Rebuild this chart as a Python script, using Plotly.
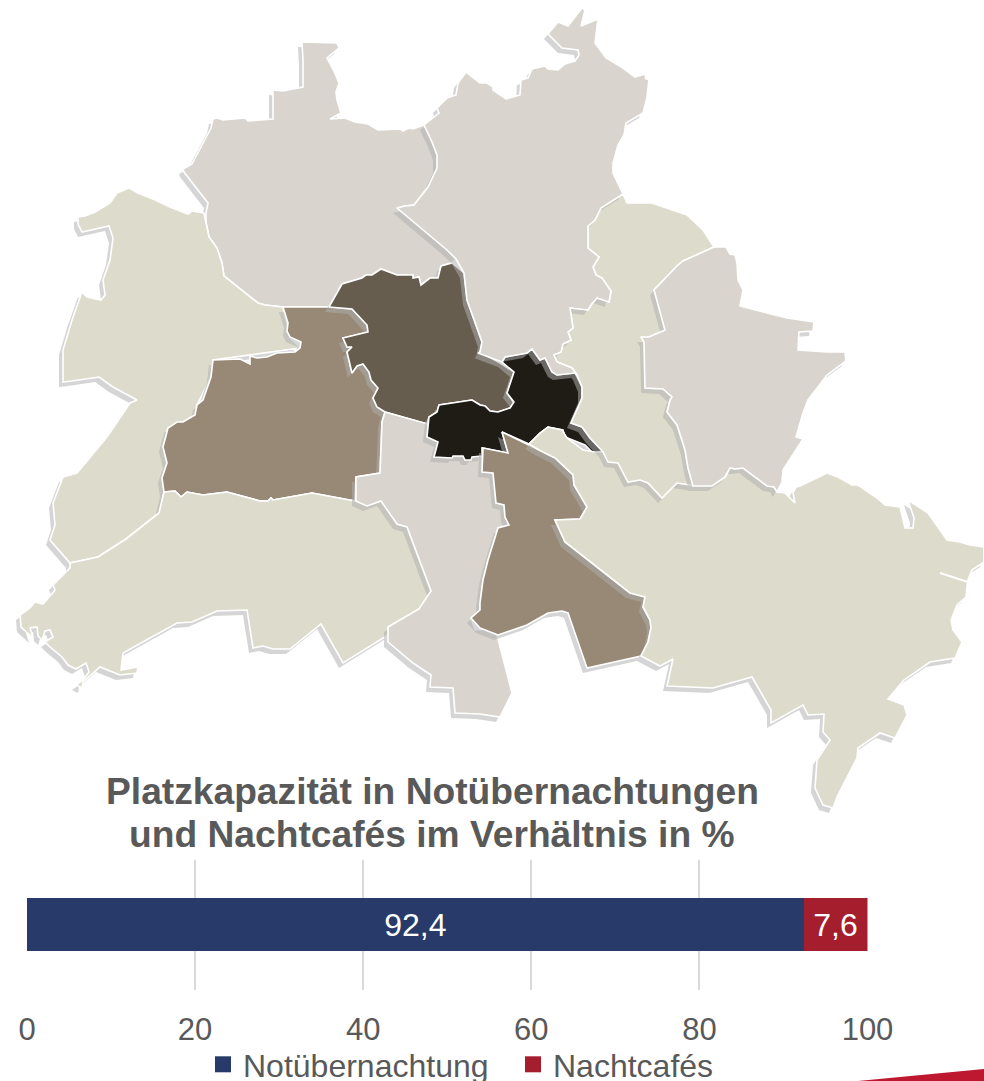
import plotly.graph_objects as go

# District outlines, as (x, y) on the map's own coordinate grid
REINICKENDORF = [(302,42),(337,43),(339,48),(327,58),(334,71),(339,83),(336,92),(337,100),(341,113),(330,119),(345,118),(355,122),(368,124),(378,130),(400,129),(403,131),(409,128),(413,129),(424,125),(432,142),(437,155),(437,168),(428,187),(414,205),(405,206),(397,208),(447,250),(456,259),(452,263),(441,266),(438,278),(430,278),(421,285),(419,277),(413,278),(413,275),(397,275),(381,269),(372,275),(366,275),(362,278),(342,284),(329,307),(283,307),(265,305),(258,303),(224,276),(222,263),(217,248),(209,237),(206,222),(206,213),(208,203),(184,172),(183,169),(192,164),(211,128),(213,119),(217,118),(223,120),(245,118),(248,121),(273,119),(273,90),(283,91),(303,87),(303,60)]
PANKOW = [(424,125),(439,113),(437,108),(447,98),(456,95),(458,83),(466,72),(480,83),(487,83),(493,87),(493,90),(506,99),(520,95),(521,80),(528,78),(532,69),(545,66),(548,69),(558,70),(565,64),(575,61),(579,55),(578,50),(562,48),(548,34),(558,22),(568,26),(582,8),(585,10),(581,26),(598,19),(595,43),(606,58),(623,68),(635,77),(645,74),(646,79),(649,79),(647,97),(643,113),(626,123),(624,135),(618,145),(613,163),(613,173),(623,194),(601,208),(595,220),(588,226),(588,248),(599,257),(593,267),(596,275),(602,278),(611,291),(609,302),(597,298),(591,305),(588,310),(570,308),(573,328),(568,332),(571,340),(563,344),(561,352),(554,355),(557,362),(572,368),(577,375),(575,373),(557,375),(552,372),(545,358),(540,360),(532,349),(527,353),(505,357),(502,362),(478,353),(480,352),(482,342),(467,300),(464,273),(456,259),(447,250),(397,208),(405,206),(414,205),(428,187),(437,168),(437,155),(432,142)]
SPANDAU = [(204,213),(192,211),(188,214),(170,207),(153,199),(138,193),(129,188),(117,193),(110,203),(95,212),(85,216),(78,217),(78,224),(82,232),(109,226),(113,238),(110,260),(103,280),(105,295),(101,300),(87,297),(82,292),(72,320),(63,350),(63,382),(72,381),(99,377),(113,387),(137,400),(130,403),(107,437),(77,473),(63,477),(53,503),(55,525),(50,540),(70,563),(98,557),(126,539),(159,513),(164,492),(162,478),(167,463),(163,447),(168,428),(183,422),(195,415),(197,405),(211,377),(213,360),(300,348),(290,337),(283,307),(265,305),(258,303),(224,276),(222,263),(217,248),(209,237),(206,222)]
CHARLOTTENBURG = [(283,307),(329,307),(352,309),(367,325),(368,332),(343,338),(347,347),(352,347),(347,352),(352,373),(357,366),(363,364),(369,372),(371,380),(378,388),(373,398),(377,407),(385,412),(382,422),(380,473),(356,477),(355,501),(312,493),(273,500),(271,498),(268,501),(260,501),(227,492),(203,495),(187,492),(181,497),(175,491),(164,492),(162,478),(167,463),(163,447),(168,428),(177,422),(183,422),(195,415),(197,405),(203,400),(211,377),(213,360),(240,359),(250,364),(250,356),(257,358),(267,357),(277,353),(295,352),(300,348),(301,342),(290,337),(287,331),(288,323)]
ZEHLENDORF = [(164,492),(175,491),(181,497),(187,492),(203,495),(227,492),(260,501),(268,501),(271,498),(273,500),(312,493),(355,501),(367,506),(381,501),(397,524),(407,527),(418,557),(431,591),(419,609),(388,627),(388,635),(343,663),(321,624),(290,649),(273,649),(263,646),(253,648),(247,610),(217,611),(192,622),(177,623),(123,653),(121,670),(138,667),(137,673),(120,675),(100,667),(83,682),(82,688),(76,685),(83,680),(89,672),(86,663),(76,669),(68,665),(62,657),(50,647),(45,642),(53,637),(50,630),(45,631),(42,640),(38,636),(37,627),(30,628),(33,638),(21,627),(20,615),(30,608),(35,602),(43,604),(55,590),(53,585),(70,568),(70,563),(98,557),(126,539),(159,513)]
MITTE = [(329,307),(342,284),(362,278),(366,275),(372,275),(381,269),(397,275),(413,275),(413,278),(419,277),(421,285),(430,278),(438,278),(441,266),(452,263),(464,273),(467,300),(482,342),(480,352),(500,363),(514,372),(507,393),(514,403),(510,408),(498,412),(490,411),(485,406),(480,405),(472,400),(439,405),(437,412),(429,417),(427,424),(385,412),(377,407),(373,398),(378,388),(371,380),(369,372),(363,364),(357,366),(352,373),(347,352),(352,347),(347,347),(343,338),(368,332),(367,325),(352,309)]
TEMPELHOF = [(385,412),(428,424),(427,437),(438,442),(434,457),(482,456),(482,472),(493,473),(496,503),(504,505),(505,517),(509,525),(498,528),(488,560),(483,580),(480,603),(480,610),(471,618),(475,630),(488,629),(497,635),(512,693),(500,717),(480,714),(455,713),(453,688),(430,687),(431,675),(413,663),(388,642),(388,627),(419,609),(431,591),(418,557),(407,527),(397,524),(381,501),(367,506),(356,501),(356,477),(380,473),(382,422)]
KREUZBERG = [(439,405),(472,400),(480,405),(485,406),(490,411),(498,412),(510,408),(514,402),(507,393),(514,372),(502,362),(505,357),(527,353),(532,349),(540,360),(545,358),(552,372),(557,375),(575,373),(582,387),(582,398),(571,423),(582,427),(590,438),(603,451),(593,453),(585,445),(565,437),(563,430),(548,427),(540,433),(529,444),(502,432),(508,453),(482,448),(482,456),(472,457),(471,460),(465,460),(463,456),(453,456),(452,458),(434,457),(438,442),(427,437),(429,417),(437,412)]
NEUKOELLN = [(502,432),(530,445),(539,450),(555,458),(573,475),(574,485),(587,507),(580,519),(555,520),(565,542),(630,593),(645,597),(643,607),(650,620),(651,628),(648,642),(641,656),(587,668),(568,613),(562,611),(548,613),(527,625),(498,635),(480,628),(471,618),(480,610),(480,603),(483,580),(488,560),(498,528),(509,525),(505,517),(504,505),(496,503),(493,473),(482,472),(483,448),(508,453)]
TREPTOW = [(529,444),(540,433),(548,427),(562,430),(567,438),(583,450),(595,452),(603,452),(608,462),(618,463),(628,482),(640,480),(648,483),(662,498),(677,483),(690,485),(712,486),(725,477),(730,468),(735,469),(743,468),(767,486),(774,487),(777,492),(785,493),(795,503),(793,493),(796,487),(800,486),(808,482),(827,473),(838,477),(852,485),(858,485),(877,498),(885,505),(900,507),(905,528),(913,528),(914,518),(908,500),(928,513),(947,540),(960,542),(970,545),(984,547),(984,562),(972,570),(968,580),(967,587),(966,597),(957,605),(951,620),(953,630),(962,642),(955,658),(930,662),(904,680),(888,699),(904,705),(907,715),(895,738),(880,733),(858,748),(857,758),(837,797),(833,808),(823,805),(815,788),(817,760),(830,740),(823,732),(824,714),(808,715),(803,705),(771,723),(771,710),(752,677),(713,688),(667,686),(673,659),(660,666),(641,656),(648,642),(651,628),(650,620),(643,607),(645,597),(630,593),(565,542),(555,520),(580,519),(587,507),(574,485),(573,475),(555,458),(539,450)]
LICHTENBERG = [(623,194),(627,203),(652,203),(687,215),(703,230),(714,247),(683,261),(677,266),(654,290),(665,330),(649,337),(641,337),(644,342),(645,388),(663,389),(672,397),(670,400),(667,412),(677,425),(685,450),(688,468),(693,486),(690,485),(677,483),(662,498),(648,483),(640,480),(628,482),(618,463),(608,462),(603,452),(590,438),(582,427),(571,423),(582,398),(582,387),(577,375),(572,368),(557,362),(554,355),(561,352),(563,344),(571,340),(568,332),(573,328),(570,308),(588,310),(591,305),(597,298),(609,302),(611,291),(602,278),(596,275),(593,267),(599,257),(588,248),(588,226),(595,220),(601,208)]
MARZAHN = [(714,247),(726,247),(730,254),(735,255),(737,263),(738,280),(743,290),(740,306),(787,318),(814,322),(813,331),(799,332),(798,350),(827,352),(845,352),(846,361),(827,375),(808,400),(803,413),(796,437),(803,439),(783,470),(782,482),(777,492),(774,487),(767,486),(743,468),(735,469),(730,468),(725,477),(712,486),(693,486),(688,468),(685,450),(677,425),(667,412),(670,400),(672,397),(663,389),(645,388),(644,342),(641,337),(649,337),(665,330),(654,290),(677,266),(683,261)]
RIVER_LINE = [(940,573),(968,582)]

GRAY, OLIVE, TAUPE, UMBER, BLACK = "#D9D5CE", "#DDDCCC", "#978976", "#675D4F", "#1E1C15"
DISTRICTS = [
    ("Reinickendorf", REINICKENDORF, GRAY),
    ("Spandau", SPANDAU, OLIVE),
    ("Charlottenburg-Wilmersdorf", CHARLOTTENBURG, TAUPE),
    ("Steglitz-Zehlendorf", ZEHLENDORF, OLIVE),
    ("Mitte", MITTE, UMBER),
    ("Tempelhof-Schöneberg", TEMPELHOF, GRAY),
    ("Friedrichshain-Kreuzberg", KREUZBERG, BLACK),
    ("Neukölln", NEUKOELLN, TAUPE),
    ("Treptow-Köpenick", TREPTOW, OLIVE),
    ("Lichtenberg", LICHTENBERG, OLIVE),
    ("Pankow", PANKOW, GRAY),
    ("Marzahn-Hellersdorf", MARZAHN, GRAY),
]
SHADOW_DX, SHADOW_DY = -4, 5

BAR_CATEGORY = ["Platzkapazität"]
SERIES = ["Notübernachtung", "Nachtcafés"]
VALUES = [92.4, 7.6]
COLORS = ["#283A6A", "#A51E2E"]
TICKS = [0, 20, 40, 60, 80, 100]
TITLE_LINES = ["Platzkapazität in Notübernachtungen", "und Nachtcafés im Verhältnis in %"]

W, H = 984, 1081
TEXT = "#595959"
FONT = "Liberation Sans"

fig = go.Figure()

def closed(poly, dx=0, dy=0):
    pts = list(poly) + [poly[0]]
    return [p[0] + dx for p in pts], [p[1] + dy for p in pts]

for name, poly, color in DISTRICTS:
    sx, sy = closed(poly, SHADOW_DX, SHADOW_DY)
    fig.add_trace(go.Scatter(x=sx, y=sy, mode="lines", fill="toself", fillcolor="rgba(175,175,175,0.52)",
                             line=dict(width=0), hoverinfo="skip", showlegend=False))
    x, y = closed(poly)
    fig.add_trace(go.Scatter(x=x, y=y, mode="lines", fill="toself", fillcolor=color, name=name,
                             line=dict(color="white", width=1.6), showlegend=False))
fig.add_trace(go.Scatter(x=[p[0] for p in RIVER_LINE], y=[p[1] for p in RIVER_LINE], mode="lines",
                         line=dict(color="white", width=2), hoverinfo="skip", showlegend=False))

for s, v, c in zip(SERIES, VALUES, COLORS):
    fig.add_trace(go.Bar(x=[v], y=BAR_CATEGORY, orientation="h", name=s, marker=dict(color=c, line=dict(width=0)),
                         width=0.408, text=[str(v).replace(".", ",")], textposition="inside",
                         insidetextanchor="middle", textangle=0, constraintext="none",
                         textfont=dict(color="white", size=32, family=FONT),
                         xaxis="x2", yaxis="y2", showlegend=False))
    fig.add_trace(go.Scatter(x=[None], y=[None], mode="markers", name=s,
                             marker=dict(symbol="square", size=16, color=c), xaxis="x2", yaxis="y2"))

fig.update_layout(
    width=W, height=H, autosize=False, margin=dict(l=0, r=0, t=0, b=0, autoexpand=False),
    paper_bgcolor="white", plot_bgcolor="rgba(0,0,0,0)", barmode="stack",
    font=dict(family=FONT, color=TEXT),
    xaxis=dict(domain=[0, 1], range=[0, W], visible=False, fixedrange=True),
    yaxis=dict(domain=[0, 1], range=[H, 0], visible=False, fixedrange=True),
    xaxis2=dict(domain=[27 / W, 867.5 / W], range=[0, 100], tickvals=TICKS, showgrid=True, gridcolor="#D9D9D9",
                gridwidth=1.5, zeroline=False, showline=False, ticks="", anchor="y2",
                tickfont=dict(size=31, color=TEXT, family=FONT), ticklabelstandoff=18, fixedrange=True),
    yaxis2=dict(domain=[1 - 989.5 / H, 1 - 859.5 / H], visible=False, anchor="x2", fixedrange=True),
    legend=dict(orientation="h", x=203 / W, xanchor="left", y=1 - 1037 / H, yanchor="top", traceorder="normal",
                font=dict(size=32, color=TEXT, family=FONT), itemsizing="trace", bgcolor="rgba(0,0,0,0)",
                entrywidth=265, entrywidthmode="pixels", itemclick=False, itemdoubleclick=False),
    annotations=[dict(text="<b>" + line + "</b>", xref="paper", yref="paper", x=432 / W, y=1 - yy / H,
                      xanchor="center", yanchor="middle", showarrow=False, align="center",
                      font=dict(size=37.2, color=TEXT, family=FONT))
                 for line, yy in zip(TITLE_LINES, [791, 834])],
    shapes=[dict(type="path", xref="x", yref="y", layer="above", line=dict(width=0), fillcolor="#BE1730",
                 path="M 858 1081 L 984 1069 L 984 1081 Z")],
)

fig.write_html("out.html", config=dict(displayModeBar=False), post_script="document.body.style.margin='0';")
